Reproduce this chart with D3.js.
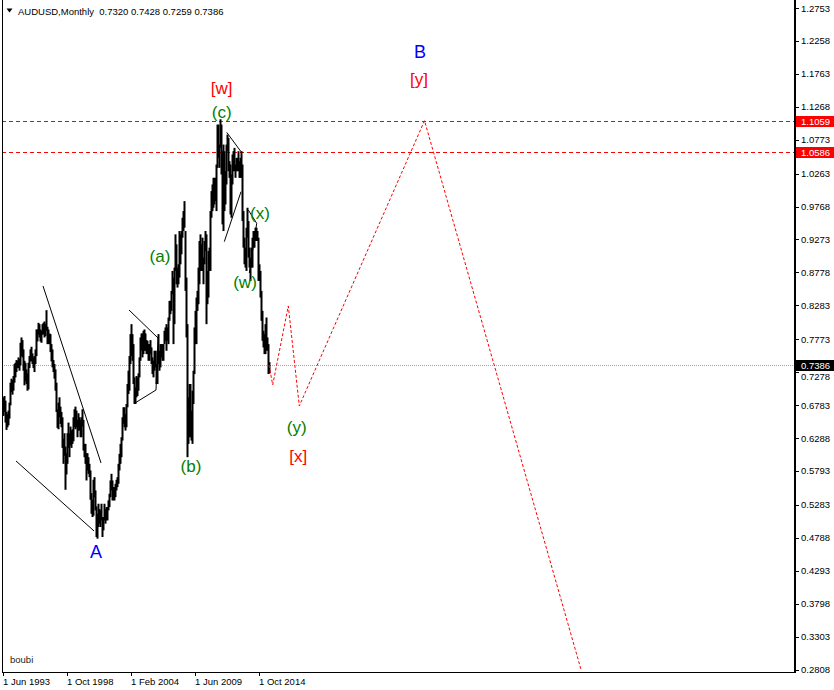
<!DOCTYPE html>
<html><head><meta charset="utf-8">
<script src="https://cdn.jsdelivr.net/npm/d3@7"></script>
<style>body{margin:0;background:#fff}svg{display:block}</style>
</head><body>
<svg id="c" width="834" height="690"></svg>
<script>
// ---- data: AUDUSD monthly bars, first bar = Jun 1993 (month index 0) ----
const symbol = "AUDUSD,Monthly";
const lastOHLC = [0.7320, 0.7428, 0.7259, 0.7386];
const highs = [
  0.690,0.692,0.685,0.668,0.665,0.670,0.682,
  0.712,0.718,0.716,0.722,0.740,0.742,0.746,0.745,0.750,0.748,0.772,0.780,
  0.776,0.762,0.745,0.742,0.732,0.726,0.742,0.752,0.762,0.766,0.756,0.750,
  0.752,0.762,0.792,0.792,0.802,0.800,0.792,0.790,0.800,0.802,0.804,0.800,
  0.821,0.796,0.792,0.786,0.785,0.770,0.762,0.746,0.740,0.732,0.712,0.672,
  0.682,0.690,0.676,0.668,0.660,0.628,0.636,0.616,0.606,0.636,0.652,0.636,
  0.646,0.640,0.642,0.660,0.672,0.676,0.670,0.656,0.666,0.660,0.656,0.660,
  0.672,0.656,0.620,0.620,0.606,0.606,0.600,0.590,0.580,0.546,0.536,0.566,
  0.570,0.550,0.526,0.515,0.530,0.522,0.520,0.530,0.510,0.510,0.530,0.522,
  0.525,0.525,0.535,0.545,0.565,0.575,0.565,0.555,0.555,0.560,0.566,0.570,
  0.590,0.605,0.620,0.630,0.660,0.675,0.675,0.665,0.680,0.710,0.730,0.752,
  0.785,0.800,0.785,0.770,0.720,0.705,0.722,0.720,0.726,0.750,0.780,0.786,
  0.786,0.790,0.792,0.786,0.776,0.775,0.770,0.770,0.776,0.765,0.750,0.745,
  0.760,0.760,0.740,0.760,0.785,0.760,0.770,0.770,0.770,0.770,0.790,0.795,
  0.800,0.795,0.810,0.835,0.835,0.850,0.880,0.870,0.885,0.935,0.920,0.885,
  0.890,0.940,0.935,0.940,0.960,0.970,0.985,0.940,0.870,0.800,0.690,0.710,
  0.710,0.670,0.700,0.730,0.795,0.820,0.840,0.850,0.885,0.925,0.935,0.920,
  0.930,0.900,0.925,0.940,0.935,0.880,0.910,0.915,0.970,1.000,1.010,1.020,
  1.020,1.020,1.040,1.100,1.100,1.070,1.108,1.100,1.060,1.070,1.060,1.030,
  1.070,1.085,1.080,1.045,1.040,1.025,1.055,1.060,1.065,1.040,1.050,1.050,
  1.060,1.045,1.050,1.060,1.040,0.970,0.930,0.915,0.945,0.975,0.955,0.915,
  0.900,0.915,0.930,0.940,0.940,0.945,0.945,0.940,0.930,0.890,0.880,0.850,
  0.820,0.790,0.785,0.800,0.810,0.780,0.770,0.7428
];
const lows = [
  0.662,0.668,0.652,0.641,0.645,0.648,0.658,
  0.678,0.698,0.694,0.700,0.712,0.720,0.728,0.734,0.734,0.730,0.738,0.752,
  0.750,0.730,0.708,0.714,0.710,0.700,0.702,0.734,0.744,0.744,0.740,0.734,
  0.728,0.740,0.752,0.774,0.784,0.780,0.774,0.772,0.784,0.785,0.780,0.782,
  0.790,0.770,0.770,0.770,0.758,0.744,0.735,0.728,0.718,0.700,0.668,0.644,
  0.642,0.660,0.650,0.645,0.614,0.590,0.602,0.551,0.574,0.590,0.614,0.600,
  0.618,0.614,0.620,0.624,0.645,0.642,0.645,0.630,0.640,0.640,0.630,0.630,
  0.646,0.610,0.600,0.590,0.565,0.580,0.575,0.570,0.536,0.515,0.510,0.512,
  0.540,0.520,0.480,0.4775,0.495,0.500,0.495,0.505,0.480,0.490,0.505,0.500,
  0.505,0.505,0.520,0.525,0.540,0.550,0.535,0.535,0.535,0.540,0.550,0.555,
  0.560,0.580,0.590,0.600,0.625,0.650,0.645,0.640,0.645,0.675,0.695,0.700,
  0.740,0.752,0.745,0.710,0.680,0.680,0.690,0.692,0.700,0.720,0.745,0.760,
  0.750,0.755,0.760,0.760,0.755,0.755,0.745,0.745,0.755,0.740,0.725,0.720,
  0.730,0.735,0.710,0.710,0.740,0.730,0.735,0.750,0.745,0.745,0.770,0.775,
  0.760,0.775,0.770,0.805,0.815,0.820,0.845,0.770,0.800,0.880,0.860,0.855,
  0.860,0.870,0.890,0.905,0.930,0.940,0.945,0.850,0.780,0.600,0.620,0.630,
  0.630,0.625,0.620,0.680,0.725,0.770,0.770,0.820,0.830,0.860,0.880,0.880,
  0.880,0.860,0.890,0.910,0.800,0.830,0.840,0.880,0.880,0.960,0.970,0.975,
  0.980,0.985,0.970,1.035,1.050,1.035,1.065,1.025,0.950,0.940,0.970,0.980,
  1.010,1.060,1.030,1.020,0.965,0.960,1.010,1.030,1.030,1.020,1.030,1.030,
  1.030,1.020,1.020,1.020,0.955,0.915,0.890,0.885,0.880,0.930,0.900,0.885,
  0.865,0.885,0.885,0.915,0.915,0.925,0.925,0.925,0.865,0.865,0.840,0.805,
  0.775,0.765,0.755,0.755,0.760,0.760,0.725,0.7259
];
// price axis tick labels
const priceTicks = [1.2753,1.2258,1.1763,1.1268,1.0773,1.0263,0.9768,0.9273,0.8778,0.8283,
  0.7773,0.7278,0.6783,0.6288,0.5793,0.5283,0.4788,0.4293,0.3798,0.3303,0.2808];
// time axis tick labels (month index from Jun 1993)
const timeTickMonths = [0,64,128,192,256];
const timeTickLabels = ["1 Jun 1993","1 Oct 1998","1 Feb 2004","1 Jun 2009","1 Oct 2014"];
// horizontal levels
const redLevels = [1.1059, 1.0586];
const currentPrice = 0.7386;
// projected path (month index, price)
const projMonths = [266, 269.7, 285.3, 296.3, 421.5, 578];
const projPrices = [0.7386, 0.7086, 0.8273, 0.6770, 1.1059, 0.2808];
// trend lines [m1, p1, m2, p2]
const trendLines = [
  [40, 0.8574, 98, 0.5913],
  [13, 0.5943, 91, 0.4891],
  [126, 0.8213, 155, 0.7792],
  [155, 0.7792, 153, 0.7010],
  [153, 0.7010, 132, 0.6815],
  [223.7, 1.0884, 238, 1.0593],
  [221.3, 0.9240, 238, 0.9991],
  [245.3, 0.9716, 253.7, 0.9516],
  [253.7, 0.9516, 246.3, 0.8769]
];
// wave labels
const waveText   = ["[w]","(c)","(a)","(b)","(x)","(w)","(y)","[x]","B","[y]","A"];
const waveMonth  = [218.7,218.7,157,188,257,242,293.7,295.3,417,416,93];
const wavePrice  = [1.1550,1.1179,0.9010,0.5853,0.9656,0.8619,0.6439,0.6008,1.2096,1.1671,0.4575];
const waveKind   = ["red","green","green","green","green","green","green","red","blue","red","blue"];

// ---- drawing ----
const svg = d3.select("#c");
const W = 834, H = 690;
const left = 2, right = 794, bottom = 672;
const x = d3.scaleLinear().domain([0, 792]).range([3, 795]);
const y = d3.scaleLinear().domain([0.2808, 1.2753]).range([669.5, 8]);
const colors = {red:"#ff0000", green:"#008000", blue:"#0000ff"};
const font = "'Liberation Sans', Arial, sans-serif";

const plot = svg.append("g");
plot.append("defs").append("clipPath").attr("id","clip")
  .append("rect").attr("x",left).attr("y",0).attr("width",right-left).attr("height",bottom);

// current price line
plot.append("line").attr("x1",left).attr("x2",right)
  .attr("y1",Math.round(y(currentPrice))+0.5).attr("y2",Math.round(y(currentPrice))+0.5)
  .attr("stroke","#a8a8a8").attr("stroke-width",1).attr("stroke-dasharray","1,1");

// red horizontal levels
plot.append("g").selectAll("rect").data(redLevels).enter().append("line")
  .attr("x1",left).attr("x2",right)
  .attr("y1",d=>Math.round(y(d))+0.5).attr("y2",d=>Math.round(y(d))+0.5)
  .attr("stroke","rgb(255,0,0)").attr("stroke-width",1).attr("stroke-dasharray","4,3")
  .attr("shape-rendering","crispEdges");

// price bars (high-low)
plot.append("g").attr("clip-path","url(#clip)").selectAll("rect").data(highs).enter().append("rect")
  .attr("x",(d,i)=>Math.round(x(i)) - 0.5)
  .attr("y",d=>y(d))
  .attr("width",2)
  .attr("height",(d,i)=>Math.max(1, y(lows[i]) - y(d)))
  .attr("fill","#000");

// trend lines
plot.append("g").selectAll("line").data(trendLines).enter().append("line")
  .attr("x1",d=>x(d[0])).attr("y1",d=>y(d[1]))
  .attr("x2",d=>x(d[2])).attr("y2",d=>y(d[3]))
  .attr("stroke","#000").attr("stroke-width",1);

// projected path
const proj = projMonths.map((m,i)=>[m, projPrices[i]]);
plot.append("path").attr("clip-path","url(#clip)")
  .attr("d", d3.line().x(d=>x(d[0])).y(d=>y(d[1]))(proj))
  .attr("fill","none").attr("stroke","#ff0000").attr("stroke-width",1)
  .attr("stroke-dasharray","3,2");

// wave labels
svg.append("g").selectAll("text").data(waveText).enter().append("text")
  .attr("x",(d,i)=>x(waveMonth[i])).attr("y",(d,i)=>y(wavePrice[i]))
  .attr("text-anchor","middle").attr("dominant-baseline","central")
  .attr("font-family",font)
  .attr("font-size",(d,i)=>waveKind[i]==="blue"?18:17)
  .attr("fill",(d,i)=>colors[waveKind[i]])
  .text(d=>d);

// frame
svg.append("line").attr("x1",left+0.5).attr("x2",left+0.5).attr("y1",0).attr("y2",bottom+0.5)
  .attr("stroke","#000");
svg.append("line").attr("x1",left).attr("x2",right+2).attr("y1",bottom+0.5).attr("y2",bottom+0.5)
  .attr("stroke","#000");
svg.append("rect").attr("x",right).attr("y",0).attr("width",2).attr("height",bottom+1).attr("fill","#000");

// price axis
const pa = svg.append("g");
pa.selectAll("line").data(priceTicks).enter().append("line")
  .attr("x1",right+2).attr("x2",right+5)
  .attr("y1",d=>Math.round(y(d))+0.5).attr("y2",d=>Math.round(y(d))+0.5)
  .attr("stroke","#000");
pa.selectAll("text").data(priceTicks).enter().append("text")
  .attr("x",801).attr("y",d=>y(d) + (d===0.7278 ? 4.5 : 0)).attr("dominant-baseline","central")
  .attr("font-family",font).attr("font-size",9.5).attr("fill","#000")
  .text(d=>d.toFixed(4));

// price labels (boxes)
const boxes = redLevels.map(v=>({v, bg:"#ff0000"})).concat([{v:currentPrice,bg:"#000"}]);
const bx = svg.append("g").selectAll("g").data(boxes).enter().append("g");
bx.append("rect").attr("x",right+2).attr("y",d=>Math.round(y(d.v))-5).attr("width",W-right-2).attr("height",11)
  .attr("fill",d=>d.bg);
bx.append("text").attr("x",801).attr("y",d=>Math.round(y(d.v))+0.5).attr("dominant-baseline","central")
  .attr("font-family",font).attr("font-size",9.5).attr("fill","#fff")
  .text(d=>d.v.toFixed(4));

// time axis
const ta = svg.append("g");
ta.selectAll("line").data(timeTickMonths).enter().append("line")
  .attr("x1",d=>Math.round(x(d))+0.5).attr("x2",d=>Math.round(x(d))+0.5)
  .attr("y1",bottom).attr("y2",bottom+4).attr("stroke","#000");
ta.selectAll("text").data(timeTickMonths).enter().append("text")
  .attr("x",d=>x(d)).attr("y",685)
  .attr("font-family",font).attr("font-size",9.5).attr("fill","#000")
  .text((d,i)=>timeTickLabels[i]);

// header
svg.append("path").attr("d","M6.5,8.5L12.5,8.5L9.5,12.5Z").attr("fill","#000");
svg.append("text").attr("x",18).attr("y",14.5)
  .attr("font-family",font).attr("font-size",9.5).attr("fill","#000")
  .attr("xml:space","preserve")
  .text(symbol + "  " + lastOHLC.map(v=>v.toFixed(4)).join(" "));

// signature
svg.append("text").attr("x",10).attr("y",663)
  .attr("font-family",font).attr("font-size",9.5).attr("fill","#222")
  .text("boubi");
</script>
</body></html>
